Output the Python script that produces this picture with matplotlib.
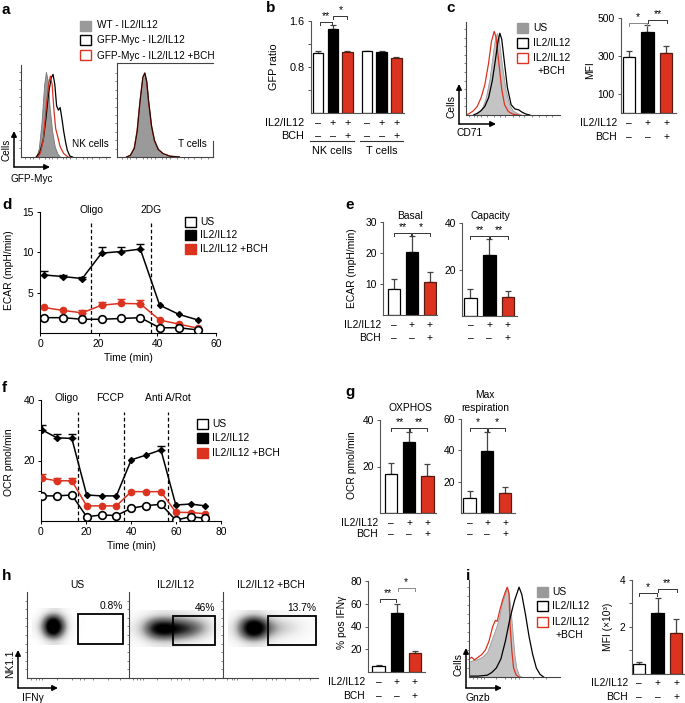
import matplotlib
matplotlib.use("Agg")
import matplotlib.pyplot as plt
from matplotlib import transforms
from matplotlib.patches import Rectangle, FancyArrowPatch

plt.rcParams['font.family'] = ['Liberation Sans', 'DejaVu Sans']
plt.rcParams['font.size'] = 7.4
plt.rcParams['axes.linewidth'] = 0.8
plt.rcParams['xtick.major.width'] = 0.7
plt.rcParams['ytick.major.width'] = 0.7
plt.rcParams['xtick.major.size'] = 2.5
plt.rcParams['ytick.major.size'] = 2.5
plt.rcParams['xtick.major.pad'] = 2
plt.rcParams['ytick.major.pad'] = 2

RED = '#dc3320'
GREY_A = '#9a9a9a'
GREY_L = '#c4c4c4'
FS = 7.4
FS_A = 7.2
FS_B = 7.8

# ---- data ----
# a: GFP-Myc histograms (arbitrary fluorescence scale 0-100, normalised counts)
nk_wt_x = [17, 20, 23, 26, 28, 30, 32, 35, 38, 41, 44]
nk_wt_y = [0, 0.1, 0.4, 0.85, 1.0, 0.9, 0.6, 0.3, 0.12, 0.04, 0]
nk_myc_x = [17, 21, 25, 28, 31, 34, 36, 38, 40, 42, 44, 46, 48, 50, 52, 55, 58]
nk_myc_y = [0, 0.05, 0.2, 0.45, 0.75, 0.93, 0.97, 0.85, 0.6, 0.55, 0.58, 0.45, 0.3, 0.18, 0.08, 0.01, 0]
nk_bch_x = [19, 22, 25, 28, 31, 33, 35, 37, 39, 41, 44, 48, 53]
nk_bch_y = [0, 0.05, 0.2, 0.55, 0.85, 0.95, 0.85, 0.55, 0.33, 0.25, 0.12, 0.04, 0]
t_x = [10, 14, 18, 21, 24, 27, 29, 31, 33, 36, 39, 43, 48, 55, 65]
t_wt = [0, 0.02, 0.1, 0.3, 0.65, 0.93, 1.0, 0.9, 0.65, 0.35, 0.18, 0.08, 0.03, 0.01, 0]
t_myc = [0, 0.02, 0.1, 0.3, 0.66, 0.95, 1.0, 0.9, 0.66, 0.37, 0.2, 0.09, 0.04, 0.01, 0]
t_bch = [0, 0.02, 0.11, 0.32, 0.67, 0.95, 1.0, 0.88, 0.64, 0.36, 0.19, 0.09, 0.04, 0.01, 0]

# b: GFP ratio
b_groups = ['NK cells', 'T cells']
b_ratio = [1.04, 1.46, 1.06, 1.07, 1.06, 0.96]
b_err = [0.03, 0.07, 0.01, 0.01, 0.01, 0.01]

# c: CD71 histograms + MFI
c_us_x = [10, 13, 17, 21, 25, 29, 31, 33, 35, 38, 42, 46, 50, 55, 60]
c_us_y = [0, 0.03, 0.08, 0.2, 0.42, 0.75, 0.9, 0.95, 0.88, 0.6, 0.3, 0.12, 0.05, 0.02, 0]
c_il_x = [8, 12, 16, 20, 24, 28, 31, 34, 36, 38, 41, 44, 48, 52, 56, 60, 64, 68]
c_il_y = [0, 0.02, 0.05, 0.1, 0.2, 0.4, 0.62, 0.85, 0.95, 0.88, 0.6, 0.32, 0.12, 0.07, 0.06, 0.03, 0.01, 0]
c_bch_x = [0, 4, 8, 12, 16, 20, 24, 27, 30, 32, 35, 38, 41, 45, 50, 56]
c_bch_y = [0, 0.02, 0.05, 0.1, 0.2, 0.35, 0.6, 0.85, 0.97, 0.9, 0.6, 0.3, 0.12, 0.04, 0.01, 0]
c_mfi = [295, 425, 315]
c_err = [30, 37, 35]

# d: ECAR time course
ecar_time = [1.2, 7.8, 14.4, 21.0, 27.6, 34.2, 40.8, 47.4, 54.0]
ecar_us = [1.9, 1.9, 1.7, 1.7, 1.8, 1.9, 0.65, 0.65, 0.37]
ecar_il = [7.2, 7.0, 6.75, 9.9, 10.1, 10.4, 3.45, 2.3, 1.6]
ecar_il_err = [0.45, 0.15, 0.25, 0.75, 0.55, 0.65, 0, 0, 0]
ecar_bch = [3.17, 2.8, 2.5, 3.45, 3.67, 3.62, 1.6, 1.1, 0.58]
ecar_bch_err = [0, 0, 0.3, 0.35, 0.5, 0.5, 0, 0, 0]
ecar_inject = [17.5, 38.0]
ecar_inject_names = ['Oligo', '2DG']

# e: ECAR bars
e_basal = [8.4, 20.4, 10.6]
e_basal_err = [3.2, 5.1, 3.2]
e_capacity = [7.7, 26.1, 8.0]
e_capacity_err = [3.9, 7.2, 2.9]

# f: OCR time course
ocr_time = [0.5, 7.1, 13.7, 20.3, 26.9, 33.5, 40.1, 46.7, 53.3, 59.9, 66.5, 73.1]
ocr_us = [8.3, 8.3, 8.6, 1.4, 2.0, 1.8, 4.2, 5.1, 5.5, 0.3, 1.4, 0.9]
ocr_il = [30.1, 27.5, 27.3, 8.6, 8.3, 8.3, 20.2, 21.8, 23.5, 5.3, 5.6, 5.0]
ocr_il_err = [1.6, 1.2, 1.4, 0, 0, 0, 0, 0, 1.3, 0, 0, 0]
ocr_bch = [14.1, 13.3, 13.3, 5.0, 5.0, 5.0, 9.7, 9.7, 9.7, 2.9, 2.8, 2.4]
ocr_bch_err = [1.3, 1.0, 1.0, 0, 0, 0, 0, 0, 0, 0, 0, 0]
ocr_inject = [16.5, 37.0, 56.3]
ocr_inject_names = ['Oligo', 'FCCP', 'Anti A/Rot']

# g: OCR bars
g_oxphos = [16.7, 30.4, 16.0]
g_oxphos_err = [4.6, 4.3, 4.9]
g_maxresp = [9.8, 39.7, 13.0]
g_maxresp_err = [4.0, 11.8, 3.6]

# h: NK1.1 vs IFNg dot plots as coarse density grids (rows top->bottom)
h_titles = ['US', 'IL2/IL12', 'IL2/IL12 +BCH']
h_gate_pct = ['0.8%', '46%', '13.7%']
h_us_density = [[0, .03, .1, .15, .08, .02, 0, 0],
                [.03, .25, .8, .9, .45, .08, .02, .01],
                [.08, .45, 1, 1, .75, .12, .03, .01],
                [.03, .25, .8, .9, .45, .06, .02, 0],
                [0, .03, .1, .15, .08, .02, 0, 0]]
h_il_density = [[.02, .04, .08, .12, .12, .1, .08, .06, .04, .02],
                [.08, .25, .55, .65, .6, .55, .45, .35, .2, .06],
                [.12, .4, .85, 1, .95, .85, .75, .55, .3, .08],
                [.08, .25, .55, .7, .65, .55, .45, .3, .15, .04],
                [.02, .04, .1, .12, .12, .1, .06, .04, .02, .01]]
h_bch_density = [[.02, .08, .15, .15, .08, .04, .03, .02, .01, 0],
                 [.08, .45, .85, .8, .45, .25, .17, .12, .06, .02],
                 [.12, .6, 1, 1, .65, .4, .27, .18, .1, .03],
                 [.08, .4, .8, .75, .4, .2, .12, .08, .04, .02],
                 [.02, .06, .12, .12, .08, .04, .02, .01, .01, 0]]
h_density_extent = [[5, 58, 38, 80], [1, 98, 36, 78], [5, 97, 36, 78]]
h_ifng = [5.2, 52.3, 16.7]
h_ifng_err = [1.2, 7.7, 1.6]

# i: Gnzb histograms + MFI
i_us_x = [0, 5, 10, 15, 20, 25, 30, 33, 36, 40, 42, 44, 46, 48, 50, 52, 55, 58]
i_us_y = [0.17, 0.19, 0.2, 0.23, 0.28, 0.42, 0.56, 0.66, 0.82, 0.94, 1.0, 0.9, 0.72, 0.48, 0.24, 0.1, 0.02, 0]
i_bch_x = [0, 3, 6, 10, 14, 18, 22, 26, 29, 31, 34, 37, 40, 42, 44, 45, 47, 49, 52, 55]
i_bch_y = [0.2, 0.22, 0.19, 0.22, 0.25, 0.3, 0.4, 0.56, 0.63, 0.62, 0.75, 0.86, 0.95, 1.0, 0.93, 0.6, 0.3, 0.1, 0.02, 0]
i_il_x = [0, 10, 20, 25, 30, 35, 40, 45, 50, 55, 58, 62, 66, 70, 74, 78, 82]
i_il_y = [0.01, 0.01, 0.02, 0.05, 0.1, 0.2, 0.4, 0.65, 0.85, 1.0, 0.92, 0.7, 0.45, 0.25, 0.1, 0.03, 0]
i_mfi = [0.39, 2.59, 1.74]
i_mfi_err = [0.09, 0.64, 0.61]

il2_signs = ['–', '+', '+']
bch_signs = ['–', '–', '+']
bar_faces = ['white', 'black', RED]
bar_edges = ['black', 'black', '#551a10']

# ---- layout helpers (pixel coordinates, origin top-left) ----
W, H = 685, 703
fig = plt.figure(figsize=(W / 100, H / 100), dpi=100)


def fx(x):
    return x / W


def fy(y):
    return 1 - y / H


def box(x0, y0, x1, y1):
    return fig.add_axes([fx(x0), fy(y1), (x1 - x0) / W, (y1 - y0) / H])


def ftext(x, y, s, **kw):
    kw.setdefault('va', 'center')
    fig.text(fx(x), fy(y), s, **kw)


def panel_letter(x, y, s):
    ftext(x, y, s, fontsize=11, fontweight='bold', ha='left')


def square(x, y, face, edge):
    fig.add_artist(Rectangle((fx(x), fy(y + 10)), 11 / W, 10 / H, transform=fig.transFigure,
                             facecolor=face, edgecolor=edge, lw=1.0))


def axis_arrows(x, y, up, right):
    for x2, y2 in [(x, y - up), (x + right, y)]:
        fig.add_artist(FancyArrowPatch((fx(x), fy(y)), (fx(x2), fy(y2)), transform=fig.transFigure,
                                       arrowstyle='-|>', mutation_scale=8, lw=1.1, color='k',
                                       shrinkA=0, shrinkB=0))


def clean(ax, left=True, bottom=True):
    for s in ['top', 'right']:
        ax.spines[s].set_visible(False)
    ax.spines['left'].set_visible(left)
    ax.spines['bottom'].set_visible(bottom)


def flow_axes(ax, xticks):
    clean(ax)
    ax.set_xlim(0, 100)
    ax.set_ylim(0, 1.08)
    ax.set_xticks(xticks)
    ax.set_yticks([0.1, 0.2, 0.3, 0.4, 0.5, 0.6, 0.7, 0.8, 0.9, 1.0])
    ax.tick_params(length=1.5, width=0.5, labelbottom=False, labelleft=False, colors='#555')
    for s in ax.spines.values():
        s.set_color('#444')


def bar_panel(ax, vals, errs, ylim, yticks, ylabels, xlim, width=0.68):
    xs = list(range(len(vals)))
    ax.bar(xs, vals, width=width, color=bar_faces, edgecolor=bar_edges, lw=0.9, zorder=2)
    ax.errorbar(xs, vals, yerr=[[0] * len(vals), errs], fmt='none', ecolor='#444', elinewidth=0.9,
                capsize=2.5, capthick=0.9, zorder=1)
    clean(ax)
    ax.set_xlim(*xlim)
    ax.set_ylim(*ylim)
    ax.set_xticks([])
    ax.set_yticks(yticks)
    ax.set_yticklabels(ylabels)
    for s in ax.spines.values():
        s.set_color('#555')
    ax.tick_params(colors='#555', labelcolor='black')
    return xs


def bracket(ax, x1, x2, ypx, label, color='#333'):
    tr = transforms.blended_transform_factory(ax.transData, fig.transFigure)
    ax.plot([x1, x1, x2, x2], [fy(ypx + 3), fy(ypx), fy(ypx), fy(ypx + 3)], transform=tr,
            color=color, lw=0.7, clip_on=False)
    ax.text((x1 + x2) / 2, fy(ypx - 1), label, transform=tr, ha='center', va='bottom', fontsize=7.5)


def sign_rows(ax, xs, y1, y2, xlab=None, il=il2_signs, bch=bch_signs, fs=FS):
    tr = transforms.blended_transform_factory(ax.transData, fig.transFigure)
    for x, a, b in zip(xs, il, bch):
        ax.text(x, fy(y1), a, transform=tr, ha='center', va='center', fontsize=fs)
        ax.text(x, fy(y2), b, transform=tr, ha='center', va='center', fontsize=fs)
    if xlab is not None:
        ftext(xlab, y1, 'IL2/IL12', ha='right', fontsize=fs)
        ftext(xlab, y2, 'BCH', ha='right', fontsize=fs)


def ylab(x, y, s, fs=FS):
    ftext(x, y, s, rotation=90, ha='center', fontsize=fs)


# ================= a =================
panel_letter(2, 10, 'a')
ax = box(21, 65, 110, 157)
flow_axes(ax, [5, 10, 14, 20, 27, 31, 35, 40, 47, 51, 55, 62, 70, 74, 80, 88, 95])
ax.fill_between(nk_wt_x, nk_wt_y, color=GREY_A, lw=0.6, edgecolor='#777')
ax.plot(nk_myc_x, nk_myc_y, color='black', lw=0.9)
ax.plot(nk_bch_x, nk_bch_y, color=RED, lw=0.9)
ax.text(99, 0.15, 'NK cells', ha='right', va='center', fontsize=FS_A)

ax = box(117, 63, 213, 157)
flow_axes(ax, [5, 10, 14, 20, 27, 31, 35, 40, 47, 51, 55, 62, 70, 74, 80, 88, 95])
ax.set_ylim(0, 1.12)
ax.spines['top'].set_visible(True)
ax.spines['right'].set_visible(True)
ax.spines['right'].set_bounds(0, 0.19)
ax.fill_between(t_x, t_wt, color=GREY_A, lw=0)
ax.plot(t_x, t_bch, color=RED, lw=0.9)
ax.plot(t_x, t_myc, color='#2a0a05', lw=0.9)
ax.text(93, 0.15, 'T cells', ha='right', va='center', fontsize=FS_A)

square(80, 21, GREY_A, GREY_A)
square(80, 35, 'white', 'black')
square(80, 50, 'white', RED)
ftext(97, 25, 'WT - IL2/IL12', ha='left', fontsize=FS_A)
ftext(97, 40, 'GFP-Myc - IL2/IL12', ha='left', fontsize=FS_A)
ftext(97, 56, 'GFP-Myc - IL2/IL12 +BCH', ha='left', fontsize=FS_A)

axis_arrows(14, 167, 36, 36)
ylab(6, 150, 'Cells', FS_A)
ftext(32, 179, 'GFP-Myc', ha='center', fontsize=FS_A)

# ================= b =================
panel_letter(266, 8, 'b')
ax = box(311, 21, 404, 113)
bx = [0, 1, 2, 3.33, 4.33, 5.33]
ax.bar(bx, b_ratio, width=0.71, color=bar_faces * 2, edgecolor=bar_edges * 2, lw=0.9, zorder=2)
ax.errorbar(bx, b_ratio, yerr=[[0] * 6, b_err], fmt='none', ecolor='#444', elinewidth=0.9,
            capsize=2.5, capthick=0.9, zorder=1)
clean(ax)
for s in ax.spines.values():
    s.set_color('#555')
ax.tick_params(colors='#555', labelcolor='black', labelsize=FS_B)
ax.set_xlim(-0.48, 5.85)
ax.set_ylim(0, 1.6)
ax.set_xticks([])
ax.set_yticks([0.4, 0.8, 1.2, 1.6])
ax.set_yticklabels(['', '0.8', '', '1.6'])
ylab(274, 67, 'GFP ratio', FS_B)
bracket(ax, 0.1, 0.95, 22, '**')
bracket(ax, 1.05, 2.0, 16, '*')
sign_rows(ax, bx, 123, 136, 304, il2_signs * 2, bch_signs * 2, FS_B)
for x0, x1, name in [(310, 354, b_groups[0]), (360, 403, b_groups[1])]:
    fig.add_artist(plt.Line2D([fx(x0), fx(x1)], [fy(141), fy(141)], color='#333', lw=0.8))
    ftext((x0 + x1) / 2, 151, name, ha='center', fontsize=FS_B)

# ================= c =================
panel_letter(446, 8, 'c')
ax = box(466, 22, 560, 115)
flow_axes(ax, [3, 8, 12, 16, 22, 30, 36, 42, 50, 56, 62, 70, 78, 85, 92])
ax.fill_between(c_us_x, c_us_y, color=GREY_L, lw=0.6, edgecolor='#999')
ax.plot(c_bch_x, c_bch_y, color=RED, lw=0.9)
ax.plot(c_il_x, c_il_y, color='black', lw=0.9)
square(517, 23, GREY_A, GREY_A)
square(517, 38, 'white', 'black')
square(517, 53, 'white', RED)
ftext(533, 28, 'US', ha='left')
ftext(533, 43, 'IL2/IL12', ha='left')
ftext(533, 58, 'IL2/IL12', ha='left')
ftext(537, 71, '+BCH', ha='left')
axis_arrows(459, 124, 40, 37)
ylab(452, 106, 'Cells')
ftext(470, 133, 'CD71', ha='center')

ax = box(621, 18, 676, 112.5)
xs = bar_panel(ax, c_mfi, c_err, (0, 500), [100, 300, 500], ['100', '300', '500'], (-0.43, 2.54), 0.65)
ylab(590, 70, 'MFI')
bracket(ax, 0.0, 1.0, 23, '*', color='#888')
bracket(ax, 1.05, 2.05, 20, '**')
sign_rows(ax, xs, 123, 137, 617)

# ================= d =================
panel_letter(2, 205, 'd')
ax = box(40, 212, 216, 333)
clean(ax)
ax.set_xlim(0, 60)
ax.set_ylim(0, 15)
ax.set_xticks([0, 20, 40, 60])
ax.set_yticks([5, 10, 15])
for t, name in zip(ecar_inject, ecar_inject_names):
    ax.axvline(t, ymax=0.92, color='black', lw=0.9, ls=(0, (3, 2)))
    ax.text(t, 15.2, name, ha='center', va='center')
ax.plot(ecar_time, ecar_il, color='black', lw=1.1, marker='D', ms=3, zorder=3)
ax.plot(ecar_time, ecar_bch, color=RED, lw=1.1, marker='o', ms=4.5, zorder=3)
ax.plot(ecar_time, ecar_us, color='black', lw=1.1, marker='o', ms=5.5, mfc='white', mew=1.2, zorder=3)
for ys, es, col in [(ecar_il, ecar_il_err, 'black'), (ecar_bch, ecar_bch_err, RED)]:
    sel = [i for i, e in enumerate(es) if e > 0]
    ax.errorbar([ecar_time[i] for i in sel], [ys[i] for i in sel], yerr=[[0] * len(sel), [es[i] for i in sel]],
                fmt='none', ecolor=col, elinewidth=1, capsize=3, capthick=1, zorder=2)
ax.set_xlabel('Time (min)', labelpad=3)
ylab(9, 270, 'ECAR (mpH/min)')
square(185, 217, 'white', 'black')
square(185, 230, 'black', 'black')
square(185, 244, RED, RED)
ftext(200, 222, 'US', ha='left')
ftext(200, 235, 'IL2/IL12', ha='left')
ftext(200, 249, 'IL2/IL12 +BCH', ha='left')

# ================= e =================
panel_letter(345, 205, 'e')
ax = box(383, 222, 437, 315)
xs = bar_panel(ax, e_basal, e_basal_err, (0, 30), [10, 20, 30], ['10', '20', '30'], (-0.62, 2.42))
ftext(410, 216, 'Basal', ha='center')
bracket(ax, 0.0, 0.97, 233, '**')
bracket(ax, 1.03, 2.0, 233, '*')
sign_rows(ax, xs, 325, 338, 381)
ylab(352, 268, 'ECAR (mpH/min)')

ax = box(462, 223, 517, 316)
xs = bar_panel(ax, e_capacity, e_capacity_err, (0, 40), [20, 40], ['20', '40'], (-0.45, 2.48))
ftext(490, 216, 'Capacity', ha='center')
bracket(ax, 0.0, 0.97, 236, '**')
bracket(ax, 1.03, 2.0, 236, '**')
sign_rows(ax, xs, 325, 338)

# ================= f =================
panel_letter(2, 388, 'f')
ax = box(41, 400, 221, 521)
clean(ax)
ax.set_xlim(0, 80)
ax.set_ylim(0, 40)
ax.set_xticks([0, 20, 40, 60, 80])
ax.set_yticks([10, 20, 30, 40])
ax.set_yticklabels(['', '20', '', '40'])
for t, name in zip(ocr_inject, ocr_inject_names):
    ax.axvline(t, ymax=0.9, color='black', lw=0.9, ls=(0, (3, 2)))
    ax.text(t, 40.5, name, ha='right' if name != 'Anti A/Rot' else 'center', va='center')
ax.plot(ocr_time, ocr_il, color='black', lw=1.1, marker='D', ms=3, zorder=3)
ax.plot(ocr_time, ocr_bch, color=RED, lw=1.1, marker='o', ms=4.5, zorder=3)
ax.plot(ocr_time, ocr_us, color='black', lw=1.1, marker='o', ms=5.5, mfc='white', mew=1.2, zorder=3)
for ys, es, col in [(ocr_il, ocr_il_err, 'black'), (ocr_bch, ocr_bch_err, RED)]:
    sel = [i for i, e in enumerate(es) if e > 0]
    ax.errorbar([ocr_time[i] for i in sel], [ys[i] for i in sel], yerr=[[0] * len(sel), [es[i] for i in sel]],
                fmt='none', ecolor=col, elinewidth=1, capsize=3, capthick=1, zorder=2)
ax.set_xlabel('Time (min)', labelpad=3)
ylab(9, 462, 'OCR pmol/min')
square(197, 419, 'white', 'black')
square(197, 433, 'black', 'black')
square(197, 448, RED, RED)
ftext(212, 424, 'US', ha='left')
ftext(212, 438, 'IL2/IL12', ha='left')
ftext(212, 453, 'IL2/IL12 +BCH', ha='left')

# ================= g =================
panel_letter(345, 392, 'g')
ax = box(380, 420, 436, 513)
xs = bar_panel(ax, g_oxphos, g_oxphos_err, (0, 40), [20, 40], ['20', '40'], (-0.6, 2.47))
ftext(410, 408, 'OXPHOS', ha='center')
bracket(ax, 0.0, 0.97, 428, '**')
bracket(ax, 1.03, 2.0, 428, '**')
sign_rows(ax, xs, 523, 534, 378)
ylab(352, 465, 'OCR pmol/min')

ax = box(461, 419, 515, 513)
xs = bar_panel(ax, g_maxresp, g_maxresp_err, (0, 60), [20, 40, 60], ['20', '40', '60'], (-0.48, 2.56))
ftext(485, 395, 'Max', ha='center')
ftext(485, 408, 'respiration', ha='center')
bracket(ax, 0.0, 0.97, 428, '*')
bracket(ax, 1.03, 2.0, 428, '*')
sign_rows(ax, xs, 523, 534)

# ================= h =================
panel_letter(2, 576, 'h')
h_boxes = [(27, 128), (129, 222), (223, 318)]
h_gates = [(50, 95, 40, 74), (47, 93, 38, 72), (47, 98, 38, 72)]
for k, dens in enumerate([h_us_density, h_il_density, h_bch_density]):
    x0, x1 = h_boxes[k]
    ax = box(x0, 592, x1, 678)
    flow_axes(ax, [4, 9, 12, 15, 30, 45, 52, 56, 65, 80, 92])
    ax.set_ylim(0, 100)
    ax.set_yticks([10, 20, 30, 40, 50, 60, 70, 80, 90])
    ax.imshow(dens, extent=h_density_extent[k], cmap='Greys', vmin=0, vmax=0.8,
              interpolation='bicubic', aspect='auto', zorder=1)
    gx0, gx1, gy0, gy1 = h_gates[k]
    ax.add_patch(Rectangle((gx0, gy0), gx1 - gx0, gy1 - gy0, fill=False, edgecolor='black', lw=1.3, zorder=3))
    ax.text(gx1, gy1 + 4, h_gate_pct[k], ha='right', va='bottom')
    ftext((x0 + x1) / 2, 585, h_titles[k], ha='center')
axis_arrows(18, 688, 38, 40)
ylab(10, 664, 'NK1.1')
ftext(33, 698, 'IFNγ', ha='center')

ax = box(368, 581, 425, 672)
xs = bar_panel(ax, h_ifng, h_ifng_err, (0, 80), [20, 40, 60, 80], ['20', '40', '60', '80'], (-0.58, 2.55))
bracket(ax, 0.1, 0.95, 599, '**')
bracket(ax, 1.05, 2.0, 588, '*', color='#888')
sign_rows(ax, xs, 682, 696, 365)
ylab(342, 622, '% pos IFNγ')

# ================= i =================
panel_letter(466, 576, 'i')
ax = box(469, 580, 560, 677)
flow_axes(ax, [4, 9, 13, 17, 30, 40, 46, 50, 55, 70, 85])
ax.fill_between(i_us_x, i_us_y, color=GREY_L, lw=0.6, edgecolor='#999')
ax.plot(i_bch_x, i_bch_y, color=RED, lw=0.9)
ax.plot(i_il_x, i_il_y, color='black', lw=0.9)
square(537, 587, GREY_A, GREY_A)
square(537, 601, 'white', 'black')
square(537, 617, 'white', RED)
ftext(552, 592, 'US', ha='left')
ftext(552, 606, 'IL2/IL12', ha='left')
ftext(552, 622, 'IL2/IL12', ha='left')
ftext(556, 635, '+BCH', ha='left')
axis_arrows(466, 688, 40, 36)
ylab(458, 664, 'Cells')
ftext(478, 698, 'Gnzb', ha='center')

ax = box(632, 580, 684, 673.5)
xs = bar_panel(ax, i_mfi, i_mfi_err, (0, 4), [1, 2, 3, 4], ['', '2', '', '4'], (-0.38, 2.43))
bracket(ax, 0.0, 0.95, 593, '*')
bracket(ax, 1.0, 2.05, 589, '**')
sign_rows(ax, xs, 683, 697, 628)
ylab(608, 627, 'MFI (×10³)')

fig.savefig('out.png', dpi=100)
